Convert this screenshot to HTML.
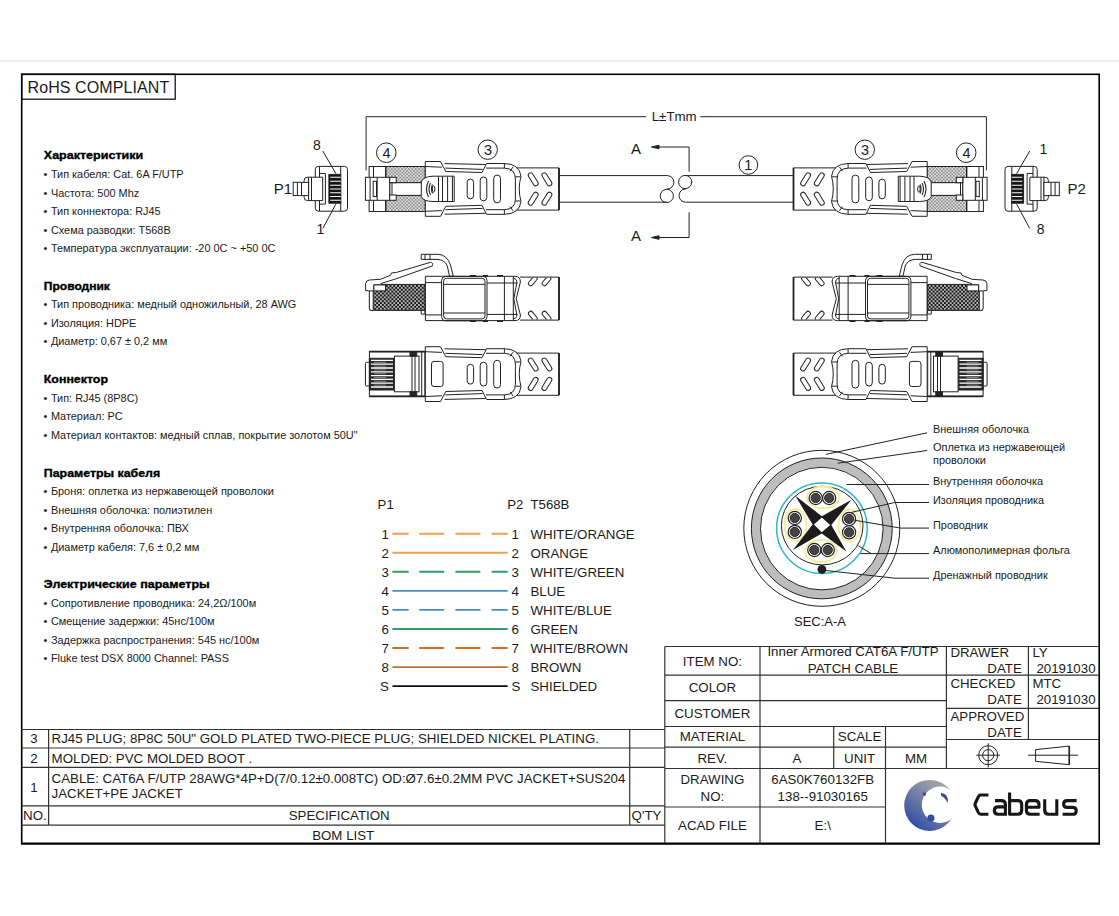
<!DOCTYPE html>
<html><head><meta charset="utf-8"><title>Cabeus Cat6A F/UTP patch cable drawing</title>
<style>
html,body{margin:0;padding:0;background:#fff;}
body{width:1119px;height:916px;overflow:hidden;}
svg{display:block;}
text{font-family:"Liberation Sans",sans-serif;fill:#1a1a1a;}
.b{font-weight:bold;}
.t13{font-size:13.3px;}
.t11{font-size:10.92px;}
.h{font-size:11.3px;font-weight:bold;fill:#000;stroke:#000;stroke-width:0.35px;}
.ln{stroke:#333;stroke-width:1.2;fill:none;}
.fr{stroke:#000;stroke-width:1.6;fill:none;}
.dr{stroke:#222;stroke-width:1;fill:none;}
.drw{stroke:#222;stroke-width:1;fill:#fff;}
</style></head>
<body>
<svg width="1119" height="916" viewBox="0 0 1119 916">
<!-- top gray rule -->
<rect x="0" y="60.5" width="1119" height="1.2" fill="#e2e2e2"/>
<!-- outer frame -->
<rect x="21.7" y="74.3" width="1077.5" height="769" class="fr"/>
<path d="M21 843.9H1100" stroke="#000" stroke-width="1.8"/>
<!-- RoHS box -->
<rect x="21.7" y="74.3" width="153.5" height="24.9" class="fr" style="stroke-width:1.2"/>
<text x="27.5" y="92.7" style="font-size:16px;letter-spacing:0.1px">RoHS COMPLIANT</text>

<!-- LEFT SPEC TEXT -->
<g id="spec">
<text class="h" x="43.8" y="159.3" textLength="99.4" lengthAdjust="spacingAndGlyphs">Характеристики</text>
<text class="t11" x="43.6" y="177.9">•</text><text class="t11" x="50.9" y="177.9">Тип кабеля: Cat. 6A F/UTP</text>
<text class="t11" x="43.6" y="196.5">•</text><text class="t11" x="50.9" y="196.5">Частота: 500 Mhz</text>
<text class="t11" x="43.6" y="215.1">•</text><text class="t11" x="50.9" y="215.1">Тип коннектора: RJ45</text>
<text class="t11" x="43.6" y="233.7">•</text><text class="t11" x="50.9" y="233.7">Схема разводки: T568B</text>
<text class="t11" x="43.6" y="252.3">•</text><text class="t11" x="50.9" y="252.3">Температура эксплуатации: -20 0C ~ +50 0C</text>
<text class="h" x="43.8" y="289.8" textLength="66.1" lengthAdjust="spacingAndGlyphs">Проводник</text>
<text class="t11" x="43.6" y="307.9">•</text><text class="t11" x="50.9" y="307.9">Тип проводника: медный одножильный, 28 AWG</text>
<text class="t11" x="43.6" y="326.5">•</text><text class="t11" x="50.9" y="326.5">Изоляция: HDPE</text>
<text class="t11" x="43.6" y="345.1">•</text><text class="t11" x="50.9" y="345.1">Диаметр: 0,67 ± 0,2 мм</text>
<text class="h" x="43.8" y="383.1" textLength="64.2" lengthAdjust="spacingAndGlyphs">Коннектор</text>
<text class="t11" x="43.6" y="401.5">•</text><text class="t11" x="50.9" y="401.5">Тип: RJ45 (8P8C)</text>
<text class="t11" x="43.6" y="420.1">•</text><text class="t11" x="50.9" y="420.1">Материал: PC</text>
<text class="t11" x="43.6" y="438.7">•</text><text class="t11" x="50.9" y="438.7">Материал контактов: медный сплав, покрытие золотом 50U"</text>
<text class="h" x="43.8" y="476.8" textLength="116.4" lengthAdjust="spacingAndGlyphs">Параметры кабеля</text>
<text class="t11" x="43.6" y="495.0">•</text><text class="t11" x="50.9" y="495.0">Броня: оплетка из нержавеющей проволоки</text>
<text class="t11" x="43.6" y="513.6">•</text><text class="t11" x="50.9" y="513.6">Внешняя оболочка: полиэтилен</text>
<text class="t11" x="43.6" y="532.2">•</text><text class="t11" x="50.9" y="532.2">Внутренняя оболочка: ПВХ</text>
<text class="t11" x="43.6" y="550.8">•</text><text class="t11" x="50.9" y="550.8">Диаметр кабеля: 7,6 ± 0,2 мм</text>
<text class="h" x="43.8" y="588.3" textLength="166" lengthAdjust="spacingAndGlyphs">Электрические параметры</text>
<text class="t11" x="43.6" y="606.6">•</text><text class="t11" x="50.9" y="606.6">Сопротивление проводника: 24,2Ω/100м</text>
<text class="t11" x="43.6" y="625.2">•</text><text class="t11" x="50.9" y="625.2">Смещение задержки: 45нс/100м</text>
<text class="t11" x="43.6" y="643.8">•</text><text class="t11" x="50.9" y="643.8">Задержка распространения: 545 нс/100м</text>
<text class="t11" x="43.6" y="662.4">•</text><text class="t11" x="50.9" y="662.4">Fluke test DSX 8000 Channel: PASS</text>
</g>

<!-- BOM TABLE -->
<g id="bom">
<path class="ln" d="M21.7 729.5H664.8 M21.7 748H664.8 M21.7 767.4H664.8 M21.7 805.9H664.8 M21.7 825.2H664.8 M48.6 729.5V825.2 M629.7 729.5V825.2"/>
<text class="t13" x="34" y="742.9" text-anchor="middle">3</text>
<text class="t13" x="51.6" y="742.9">RJ45 PLUG; 8P8C 50U" GOLD PLATED TWO-PIECE PLUG; SHIELDED NICKEL PLATING.</text>
<text class="t13" x="34" y="762.6" text-anchor="middle">2</text>
<text class="t13" x="51.6" y="762.6">MOLDED: PVC MOLDED BOOT .</text>
<text class="t13" x="34" y="791.5" text-anchor="middle">1</text>
<text class="t13" x="51.6" y="783">CABLE: CAT6A F/UTP 28AWG*4P+D(7/0.12±0.008TC) OD:Ø7.6±0.2MM PVC JACKET+SUS204</text>
<text class="t13" x="51.6" y="798.3">JACKET+PE JACKET</text>
<text class="t13" x="23.1" y="820.4">NO.</text>
<text class="t13" x="339.2" y="820.4" text-anchor="middle">SPECIFICATION</text>
<text class="t13" x="646.5" y="820.4" text-anchor="middle">Q'TY</text>
<text class="t13" x="343.2" y="839.6" text-anchor="middle">BOM LIST</text>
</g>

<!-- TITLE BLOCK -->
<g id="title">
<path class="ln" d="M664.8 646.5H1099.2 M664.8 646.5V843.3 M760 646.5V843.3 M946.4 646.5V768.5 M1028.4 646.5V739.5
M664.8 675.2H946.4 M664.8 700.6H946.4 M664.8 726.5H946.4 M664.8 747.2H946.4 M664.8 768.5H1099.2 M664.8 807H885.5
M946.4 675.2H1099.2 M946.4 708.4H1099.2 M946.4 739.5H1099.2
M833.7 726.5V768.5 M885.5 726.5V843.3"/>
<text class="t13" x="712.4" y="665.7" text-anchor="middle">ITEM NO:</text>
<text class="t13" x="853" y="656.4" text-anchor="middle">Inner Armored CAT6A F/UTP</text>
<text class="t13" x="853" y="672.9" text-anchor="middle">PATCH CABLE</text>
<text class="t13" x="712.4" y="692.4" text-anchor="middle">COLOR</text>
<text class="t13" x="712.4" y="718.1" text-anchor="middle">CUSTOMER</text>
<text class="t13" x="712.4" y="740.7" text-anchor="middle">MATERIAL</text>
<text class="t13" x="859.6" y="740.7" text-anchor="middle">SCALE</text>
<text class="t13" x="712.4" y="762.7" text-anchor="middle">REV.</text>
<text class="t13" x="796.9" y="762.7" text-anchor="middle">A</text>
<text class="t13" x="859.6" y="762.7" text-anchor="middle">UNIT</text>
<text class="t13" x="916" y="762.7" text-anchor="middle">MM</text>
<text class="t13" x="712.4" y="783.8" text-anchor="middle">DRAWING</text>
<text class="t13" x="712.4" y="800.7" text-anchor="middle">NO:</text>
<text class="t13" x="822.7" y="783.8" text-anchor="middle">6AS0K760132FB</text>
<text class="t13" x="822.7" y="800.7" text-anchor="middle">138--91030165</text>
<text class="t13" x="712.4" y="830" text-anchor="middle">ACAD FILE</text>
<text class="t13" x="822.7" y="830" text-anchor="middle">E:\</text>
<text class="t13" x="950.4" y="657.1">DRAWER</text>
<text class="t13" x="1021.8" y="672.6" text-anchor="end">DATE</text>
<text class="t13" x="1032.4" y="657.1">LY</text>
<text class="t13" x="1036.4" y="672.6">20191030</text>
<text class="t13" x="950.4" y="688.3">CHECKED</text>
<text class="t13" x="1021.8" y="704" text-anchor="end">DATE</text>
<text class="t13" x="1032.4" y="688.3">MTC</text>
<text class="t13" x="1036.4" y="704">20191030</text>
<text class="t13" x="950.4" y="721">APPROVED</text>
<text class="t13" x="1021.8" y="736.9" text-anchor="end">DATE</text>
</g>

<defs>
<pattern id="hl" width="3.4" height="3.4" patternUnits="userSpaceOnUse"><rect width="3.4" height="3.4" fill="#8e8e8e"/><circle cx="0.85" cy="0.85" r="0.85" fill="#fff"/><circle cx="2.55" cy="2.55" r="0.85" fill="#fff"/></pattern>
<pattern id="hd" width="3.8" height="3.8" patternUnits="userSpaceOnUse"><rect width="3.8" height="3.8" fill="#161616"/><circle cx="0.95" cy="0.95" r="0.85" fill="#fff"/><circle cx="2.85" cy="2.85" r="0.85" fill="#fff"/></pattern>
<g id="boot" class="dr">
  <path class="drw" d="M425.3 161.5H440.5L445.8 171.5L482 172.5L486.6 163.5H504.3Q519.5 163.8 521 176.3Q517.5 188.9 521 201.5Q519.5 214 504.3 214.3H486.6L482 205.3L445.8 206.3L440.5 216.3H425.3Z"/>
  <path d="M444.5 163.6L485.7 164.5M445.4 168.1L482.5 169.4M425.3 166.5L441.9 167.2M486 168.1H504.4Q515.4 168.5 515.4 179V199Q515.4 209.3 504.4 209.7H486M504.4 163.5V168.1M504.4 209.7V214.3M513 167L510 171.2M513 210.8L510 206.6M515.4 176.8H520.6M515.4 201H520.6M444.5 214.2L485.7 213.3M445.4 209.7L482.5 208.4M425.3 211.3L441.9 210.6"/>
  <rect x="467.2" y="179.1" width="6.4" height="19.8" rx="3.2"/>
  <rect x="480.2" y="177" width="6.6" height="23.8" rx="3.3"/>
  <rect x="493.7" y="175.1" width="6.8" height="27.8" rx="3.4"/>
  <path d="M516.5 167.9H559V210.1H516.5" />
  <path d="M559 167.9V210.1" style="stroke-width:1.8"/>
  <rect x="-7.2" y="-2.4" width="14.4" height="4.8" rx="2.4" transform="translate(533.2 179.3) rotate(58)"/>
  <rect x="-7.2" y="-2.4" width="14.4" height="4.8" rx="2.4" transform="translate(546.9 179.3) rotate(58)"/>
  <rect x="-7.2" y="-2.4" width="14.4" height="4.8" rx="2.4" transform="translate(533.2 198.7) rotate(-58)"/>
  <rect x="-7.2" y="-2.4" width="14.4" height="4.8" rx="2.4" transform="translate(546.9 198.7) rotate(-58)"/>
</g>
<g id="half" class="dr">
  <!-- dimension leg -->
  <path d="M366.1 170.4V116.7H646"/>
  <!-- front view RJ45 -->
  <rect class="drw" x="315.3" y="166.4" width="32.2" height="44.8" rx="3"/>
  <path d="M319.5 166.4V211.2M340.7 166.4V211.2M319.5 173.5H325.4V204.1H319.5"/>
  <rect x="328.9" y="174.4" width="11.8" height="28.8" fill="#161616"/>
  <path d="M330.2 177.3H340.7M330.2 181.2H340.7M330.2 185.2H340.7M330.2 189H340.7M330.2 192.8H340.7M330.2 196.5H340.7M330.2 200.3H340.7" style="stroke:#fff;stroke-width:1.1"/>
  <path class="drw" d="M322.7 177.2H307.5Q304.1 177.2 304.1 180.5V197.3Q304.1 200.6 307.5 200.6H322.7Z"/>
  <path d="M308.6 177.2V200.6M311.5 177.2V200.6"/>
  <rect class="drw" x="293.2" y="182.3" width="15.4" height="13.3"/>
  <path d="M297.4 182.3V195.6M301.5 182.3V195.6"/>
  <path d="M322.8 151L336 173.8M322.8 228.4L335.8 204.2"/>
  <!-- plug top view -->
  <rect class="drw" x="369.1" y="166.5" width="16.9" height="45"/>
  <path d="M373.5 166.5V177.3M373.5 200.3V211.5"/>
  <path d="M386 166.5V177.3M386 200.3V211.5" style="stroke-width:1.8"/>
  <rect x="386" y="166.5" width="39.3" height="16.2" fill="url(#hl)" stroke="#222" stroke-width="1"/>
  <rect x="386" y="195.4" width="39.3" height="16.1" fill="url(#hl)" stroke="#222" stroke-width="1"/>
  <rect class="drw" x="389.7" y="182.7" width="33" height="12.7"/>
  <rect class="drw" x="365.4" y="177.3" width="24.3" height="23"/>
  <path d="M370.1 177.3V200.3M377.2 177.3V200.3"/>
  <rect class="drw" x="373.2" y="181.3" width="3.3" height="15.3"/>
  <rect class="drw" x="389.7" y="177.3" width="6.5" height="5.4"/>
  <rect class="drw" x="389.7" y="195" width="6.5" height="5.3"/>
  <path d="M392 182.7V195"/>
  <!-- boot -->
  <use href="#boot"/>
  <!-- grip -->
  <path class="drw" d="M454.2 176.2H433Q423 176.5 421.3 182V196.5Q423 201.3 433 201.5H454.2Z"/>
  <path d="M438.5 176.5V201.3M442.5 176.5V201.3M447.6 176.5V201.3M452.4 176.5V201.3"/>
  <path d="M428.5 181Q424.5 189 428.5 197M430.5 183Q427.5 189 430.5 195M432.5 184.5Q430.5 189 432.5 193.5" style="stroke-width:1.1"/>
  <ellipse cx="433.6" cy="189" rx="1.3" ry="3.2"/>
  <!-- cable to break -->
  <path d="M559 175.6H667.2M559 202.2H666.8"/>
  <!-- side view 1 -->
  <path class="drw" d="M519.9 277.1H559V320.1H519.9"/>
  <path d="M559 277.1V320.1" style="stroke-width:1.8"/>
  <path class="drw" d="M425.4 276.3H515Q520.5 276.5 520.4 282L516.2 298.8L520.4 315Q520.5 320.6 515 320.6H425.4Z"/>
  <path d="M425.4 282.6H441.6M425.4 314.9H441.6M487 283H517.5M487 314.4H517.5M504.4 276.3V320.6M513.3 276.3V320.6M513.3 278.3Q517.3 279 516.8 283L513.8 298.8L516.8 314.6Q517.3 318.4 513.3 318.8"/>
  <rect x="441.6" y="276.4" width="45.4" height="44.4" rx="4"/>
  <rect x="443.6" y="278.3" width="41.4" height="40.6" rx="3"/>
  <path d="M443.6 284.4H485M443.6 313H485" />
  <path d="M470 275.8H476M483 275.8H488M497 275.8H503M470 321.2H476M483 321.2H488M497 321.2H503" style="stroke-width:1.6"/>
  <clipPath id="sc"><rect x="519.9" y="277.5" width="39.1" height="42"/></clipPath>
  <g clip-path="url(#sc)">
  <rect x="-5.5" y="-2.3" width="11" height="4.6" rx="2.3" transform="translate(532.8 281) rotate(-50)"/>
  <rect x="-5.5" y="-2.3" width="11" height="4.6" rx="2.3" transform="translate(546.5 281) rotate(-50)"/>
  <rect x="-5.5" y="-2.3" width="11" height="4.6" rx="2.3" transform="translate(532.8 316) rotate(50)"/>
  <rect x="-5.5" y="-2.3" width="11" height="4.6" rx="2.3" transform="translate(546.5 316) rotate(50)"/>
  </g>
  <rect x="370.2" y="284.4" width="54.7" height="26" fill="url(#hd)" stroke="#222"/>
  <path class="drw" d="M373.2 290.5H369.3V308Q369.3 310.6 371.8 310.6H373.2Z"/>
  <path class="drw" d="M421.2 310.4H424.9V314.1H421.2Z"/>
  <path class="drw" d="M365.6 290.5V283.5Q366 280.3 369.5 280L380.4 279.3L390.5 275.3L391.5 273L396.2 272.5L430.5 262.3Q433.5 262.5 432.3 266L397 278.5L381 283.5V284.9H373.9V290.9H369.3Z"/>
  <rect class="drw" x="373.9" y="284.9" width="11.6" height="6"/>
  <path class="drw" d="M421.2 254.3H437.9Q447 254.5 450.5 265L453.2 276H449.5L447.3 266Q444.5 259.4 437 259.4H421.2Z"/>
  <path d="M425 254.3V259.4M430 254.3V259.4"/>
  <!-- side view 2 -->
  <use href="#boot" y="185.2"/>
  <rect class="drw" x="431.5" y="361.4" width="11.6" height="25.1" rx="2.5"/>
  <rect class="drw" x="369.4" y="351.6" width="55.4" height="44.7"/>
  <path d="M369.4 351.6H424.8M369.4 396.3H424.8" style="stroke-width:1.8"/>
  <rect class="drw" x="365.4" y="362.3" width="4" height="23.7" rx="1"/>
  <rect x="369.4" y="358.3" width="25" height="31.7" fill="#2a2a2a"/>
  <path d="M371 360.4H393M371 364.2H393M371 368H393M371 371.8H393M371 375.6H393M371 379.4H393M371 383.2H393M371 387H393" style="stroke:#fff;stroke-width:1.3"/><path d="M374 362.3H386M374 366.1H386M374 369.9H386M374 373.7H386M374 377.5H386M374 381.3H386M374 385.1H386" style="stroke:#999;stroke-width:0.8"/>
  <rect class="drw" x="394.4" y="356.1" width="24.6" height="35.7"/>
  <path d="M412 356.1V391.8M415 356.1V391.8"/>
  <rect x="410" y="351.6" width="6.7" height="4.5" fill="#222"/>
  <rect x="410" y="391.8" width="6.7" height="4.5" fill="#222"/>
  <path d="M421.7 351.6V396.3"/>
</g>
</defs>
<use href="#half"/>
<use href="#half" transform="translate(1352.5 0) scale(-1 1)"/>
<!-- break symbol -->
<g class="dr">
<path d="M667.2 175.6A6.7 6.7 0 0 1 667.2 189"/>
<circle cx="666.8" cy="195.9" r="6.6"/>
<circle cx="685.2" cy="182" r="6.6"/>
<path d="M685.6 202.2A6.6 6.6 0 0 1 685.6 189"/>
<path d="M689.1 171.7V147H657M689.1 212.3V237.5H657"/>
<path d="M651.5 147L659 145.2V148.8Z M651.5 237.5L659 235.7V239.3Z" fill="#222"/>
<circle cx="748.4" cy="165" r="9.3"/>
<circle cx="386.3" cy="152.7" r="9.8"/>
<circle cx="487.7" cy="149.7" r="9.7"/>
<circle cx="966.2" cy="152.7" r="9.8"/>
<circle cx="864.8" cy="149.7" r="9.7"/>
</g>
<g style="font-size:14.5px">
<text x="386.6" y="158" text-anchor="middle">4</text>
<text x="488" y="155" text-anchor="middle">3</text>
<text x="966.5" y="158" text-anchor="middle">4</text>
<text x="865.1" y="155" text-anchor="middle">3</text>
<text x="748.4" y="170.2" text-anchor="middle">1</text>
</g>
<text x="674.2" y="121" text-anchor="middle" style="font-size:13.3px">L±Tmm</text>
<path d="M700.3 116.7H707" stroke="#222" stroke-width="1"/>
<g style="font-size:15px">
<text x="273.8" y="194.2">P1</text>
<text x="1067.5" y="194.2">P2</text>
<text x="631" y="154">A</text>
<text x="631" y="241.1">A</text>
</g>
<g style="font-size:14px">
<text x="313" y="150.4">8</text>
<text x="316.5" y="233.8">1</text>
<text x="1039.5" y="154">1</text>
<text x="1036.7" y="234.2">8</text>
</g>


<!-- CROSS SECTION -->
<g id="xsec">
<circle cx="821.8" cy="528.3" r="78" fill="#fff" stroke="#222" stroke-width="1"/>
<circle cx="821.8" cy="528.4" r="65.9" fill="none" stroke="#bdbdbd" stroke-width="9.1"/>
<circle cx="821.8" cy="528.4" r="70.4" fill="none" stroke="#222" stroke-width="1"/>
<circle cx="821.8" cy="528.6" r="61.3" fill="none" stroke="#222" stroke-width="1"/>
<circle cx="821.9" cy="528.2" r="45.3" fill="none" stroke="#2fb9c6" stroke-width="1.5"/>
<ellipse cx="822.2" cy="525.6" rx="40.8" ry="39.3" fill="#fff" stroke="#222" stroke-width="1"/>
<g fill="none" stroke="#f1ec9a" stroke-width="1.9">
<ellipse cx="823" cy="497.5" rx="16" ry="11"/>
<ellipse cx="821" cy="551" rx="16" ry="11"/>
<ellipse cx="795.5" cy="525" rx="11" ry="16"/>
<ellipse cx="849.5" cy="525.5" rx="11" ry="16"/>
</g>
<path d="M795.3 495.7L821.8 516.2L851.5 499.8L831.3 524.9L846.4 551.4L821.8 533.6L793 550L812.6 524.6Z" fill="#1c1c1c"/>
<path d="M821.8 517.6L830.2 524.9L821.8 532.3L813.9 524.6Z" fill="#fff"/>
<g fill="#444" stroke="#222" stroke-width="1">
<circle cx="815.7" cy="498" r="4.6"/><circle cx="829.2" cy="498" r="4.6"/>
<circle cx="794.8" cy="518" r="4.6"/><circle cx="794.8" cy="531.9" r="4.6"/>
<circle cx="849.1" cy="518.9" r="4.6"/><circle cx="849.1" cy="532.3" r="4.6"/>
<circle cx="814.3" cy="550" r="4.6"/><circle cx="827.8" cy="550" r="4.6"/>
</g>
<g fill="none" stroke="#222" stroke-width="1.2">
<circle cx="815.7" cy="498" r="6.6"/><circle cx="829.2" cy="498" r="6.6"/>
<circle cx="794.8" cy="518" r="6.6"/><circle cx="794.8" cy="531.9" r="6.6"/>
<circle cx="849.1" cy="518.9" r="6.6"/><circle cx="849.1" cy="532.3" r="6.6"/>
<circle cx="814.3" cy="550" r="6.6"/><circle cx="827.8" cy="550" r="6.6"/>
</g>
<circle cx="821.9" cy="569.4" r="4.4" fill="#1e1e1e"/>
<path fill="none" stroke="#222" stroke-width="1" d="M825.9 454.4L927.1 432.8M837.7 463.2L927.1 450.5M846.5 484.5H929M851.4 512.4L894.7 502.5H929M854.4 520.2L900.6 528.1H929M858.3 545.8L871.1 553.6M860.3 553.6H929M823.9 570.3L894.7 578.2H929"/>
</g>
<g class="t11">
<text x="933" y="432.9">Внешняя оболочка</text>
<text x="933" y="450.5">Оплетка из нержавеющей</text>
<text x="933" y="463.7">проволоки</text>
<text x="933" y="485.2">Внутренняя оболочка</text>
<text x="933" y="504.3">Изоляция проводника</text>
<text x="933" y="529.1">Проводник</text>
<text x="933" y="553.5">Алюмополимерная фольга</text>
<text x="933" y="578.9">Дренажный проводник</text>
</g>
<text x="820" y="626.3" text-anchor="middle" style="font-size:13px">SEC:A-A</text>

<!-- WIRING -->
<g style="font-size:13.2px">
<text x="377.6" y="508.9">P1</text>
<text x="507.2" y="508.9">P2</text>
<text x="530.5" y="508.9">T568B</text>
</g>
<g style="font-size:13.3px">
<text x="388.8" y="538.6" text-anchor="end">1</text><text x="511.4" y="538.6">1</text><text x="530.5" y="538.6">WHITE/ORANGE</text>
<text x="388.8" y="557.7" text-anchor="end">2</text><text x="511.4" y="557.7">2</text><text x="530.5" y="557.7">ORANGE</text>
<text x="388.8" y="576.7" text-anchor="end">3</text><text x="511.4" y="576.7">3</text><text x="530.5" y="576.7">WHITE/GREEN</text>
<text x="388.8" y="595.8" text-anchor="end">4</text><text x="511.4" y="595.8">4</text><text x="530.5" y="595.8">BLUE</text>
<text x="388.8" y="614.8" text-anchor="end">5</text><text x="511.4" y="614.8">5</text><text x="530.5" y="614.8">WHITE/BLUE</text>
<text x="388.8" y="633.9" text-anchor="end">6</text><text x="511.4" y="633.9">6</text><text x="530.5" y="633.9">GREEN</text>
<text x="388.8" y="652.9" text-anchor="end">7</text><text x="511.4" y="652.9">7</text><text x="530.5" y="652.9">WHITE/BROWN</text>
<text x="388.8" y="672" text-anchor="end">8</text><text x="511.4" y="672">8</text><text x="530.5" y="672">BROWN</text>
<text x="388.8" y="691" text-anchor="end">S</text><text x="511.4" y="691">S</text><text x="530.5" y="691">SHIELDED</text>
</g>
<g fill="none" stroke-width="1.9">
<path d="M392.4 533.7H507.7" stroke="#eba24e" stroke-dasharray="16.3 10.5 25 11.2 25 11.2 25 11.2"/>
<path d="M392.4 552.8H507.7" stroke="#eba24e"/>
<path d="M392.4 571.8H507.7" stroke="#2f9e63" stroke-dasharray="16.3 10.5 25 11.2 25 11.2 25 11.2"/>
<path d="M392.4 590.9H507.7" stroke="#4a8bc9"/>
<path d="M392.4 609.9H507.7" stroke="#4a8bc9" stroke-dasharray="16.3 10.5 25 11.2 25 11.2 25 11.2"/>
<path d="M392.4 629H507.7" stroke="#2f9e63"/>
<path d="M392.4 648H507.7" stroke="#d0732a" stroke-dasharray="16.3 10.5 25 11.2 25 11.2 25 11.2"/>
<path d="M392.4 667.1H507.7" stroke="#bb7238"/>
<path d="M392.4 686.1H507.7" stroke="#111"/>
</g>

<!-- PROJECTION SYMBOLS -->
<g fill="none" stroke="#222" stroke-width="1">
<circle cx="988.2" cy="755.2" r="9.5"/>
<circle cx="988.2" cy="755.2" r="5.6"/>
<path d="M976.3 755.2H1000.1M988.2 743.3V767.5"/>
<path d="M1035.6 749.6L1069.3 746.1V764.7L1035.6 761.3Z"/><path d="M1069.3 746.1V764.7" stroke-width="1.6"/>
<path d="M1028 755.2H1078"/>
</g>

<!-- LOGO -->
<defs>
<linearGradient id="lg" x1="0.85" y1="0.1" x2="0.2" y2="0.9">
<stop offset="0" stop-color="#a9a9a9"/>
<stop offset="0.45" stop-color="#7d84a4"/>
<stop offset="1" stop-color="#3350a8"/>
</linearGradient>
<mask id="lm"><rect x="880" y="760" width="100" height="90" fill="#fff"/><circle cx="940" cy="804.8" r="18.2" fill="#000"/></mask>
</defs>
<circle cx="929.7" cy="805.4" r="25.5" fill="url(#lg)" mask="url(#lm)"/>
<circle cx="930.9" cy="818.1" r="3.6" fill="#2f4fa0"/>
<circle cx="924.4" cy="794.1" r="1.8" fill="#3a4f90"/>
<path d="M941 792.8Q949.5 794.5 947.8 803.2Q945.5 798 941 795.8Z" fill="#3f5288"/>
<path fill="none" stroke="#161616" stroke-width="3.1" stroke-linejoin="round" d="M988.4 795H980.8Q979.2 795 978.4 796.6L975.4 803Q974.6 804.6 975.4 806.2L978.4 812.6Q979.2 814.2 980.8 814.2H988.4
M995 800.6H1001.4Q1005.4 800.6 1005.4 804.6V815.7M1005.4 814.3H998.2Q994.3 814.3 994.3 810.6V810.4Q994.3 806.9 998.2 806.9H1005.4
M1009.6 792.5V814.3H1017.7Q1021.7 814.3 1021.7 810.3V804.6Q1021.7 800.6 1017.7 800.6H1009.6
M1039.6 814.3H1030.4Q1026.4 814.3 1026.4 810.3V804.6Q1026.4 800.6 1030.4 800.6H1035Q1039 800.6 1039 804.6V807.3H1026.4
M1044.7 799.2V810.3Q1044.7 814.3 1048.7 814.3H1056.8M1056.8 799.2V815.7
M1076.6 800.6H1067.2Q1063.6 800.6 1063.6 804V804.2Q1063.6 807.4 1067.2 807.4H1072.6Q1076.2 807.4 1076.2 810.8V810.9Q1076.2 814.3 1072.6 814.3H1062.6"/>

<!--DRAWINGS3-->
</svg>
</body></html>
